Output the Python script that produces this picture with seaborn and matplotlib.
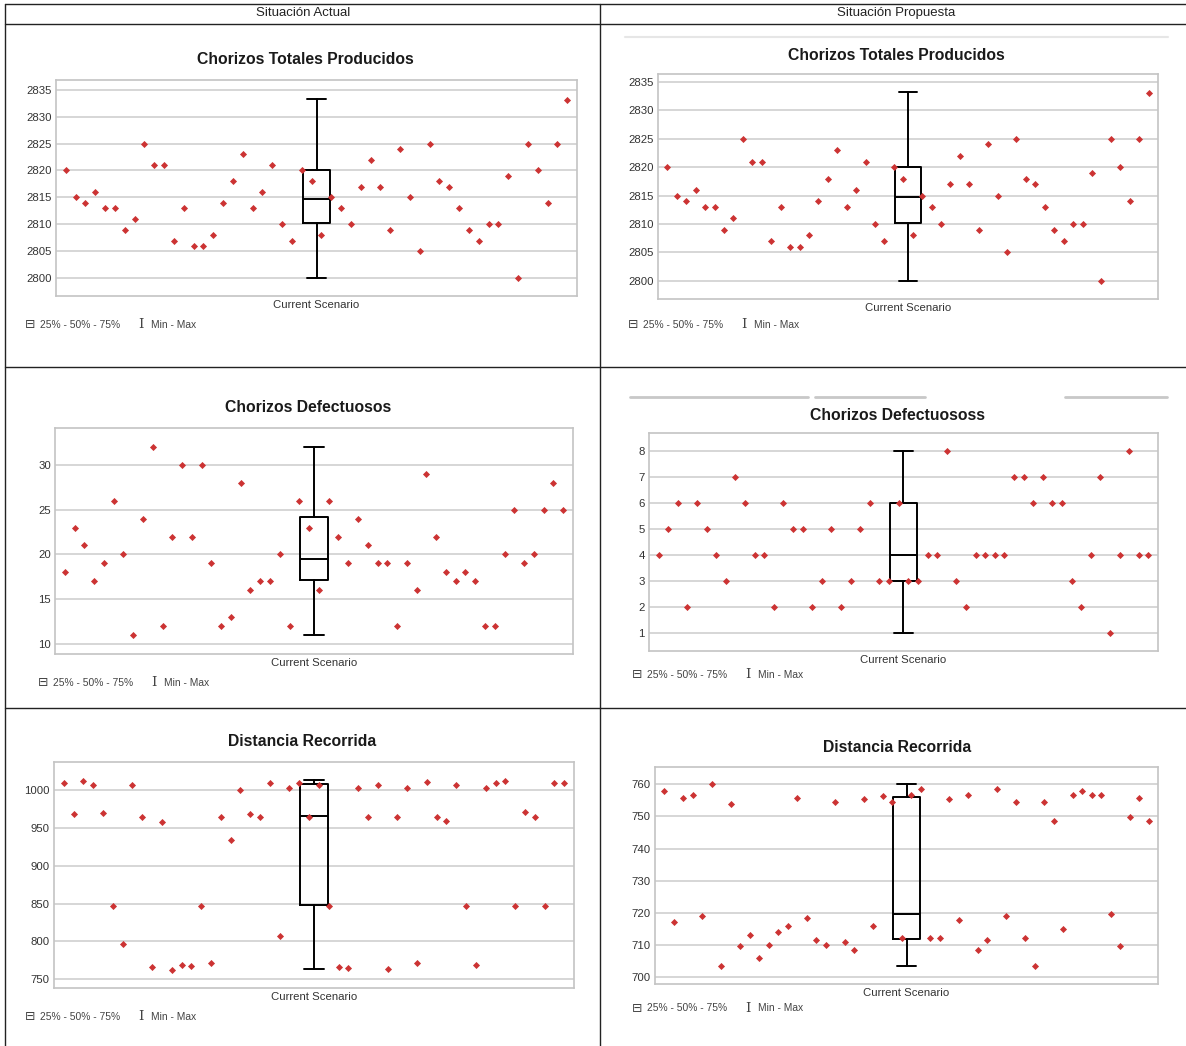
import numpy as np
import seaborn as sns
import matplotlib.pyplot as plt
from matplotlib.lines import Line2D

W, H = 1186, 1046

# ---- data (52 replications per scenario) ----
tot_prod = [2820, 2815, 2814, 2816, 2813, 2813, 2809, 2811, 2825, 2821, 2821, 2807, 2813,
            2806, 2806, 2808, 2814, 2818, 2823, 2813, 2816, 2821, 2810, 2807, 2820, 2818,
            2808, 2815, 2813, 2810, 2817, 2822, 2817, 2809, 2824, 2815, 2805, 2825, 2818,
            2817, 2813, 2809, 2807, 2810, 2810, 2819, 2800, 2825, 2820, 2814, 2825, 2833]
def_actual = [18, 23, 21, 17, 19, 26, 20, 11, 24, 32, 12, 22, 30, 22, 30, 19, 12, 13, 28,
              16, 17, 17, 20, 12, 26, 23, 16, 26, 22, 19, 24, 21, 19, 19, 12, 19, 16, 29,
              22, 18, 17, 18, 17, 12, 12, 20, 25, 19, 20, 25, 28, 25]
def_prop = [4, 5, 6, 2, 6, 5, 4, 3, 7, 6, 4, 4, 2, 6, 5, 5, 2, 3, 5, 2, 3, 5, 6, 3, 3, 6,
            3, 3, 4, 4, 8, 3, 2, 4, 4, 4, 4, 7, 7, 6, 7, 6, 6, 3, 2, 4, 7, 1, 4, 8, 4, 4]
dist_actual = [1009, 968, 1012, 1007, 970, 847, 796, 1007, 965, 766, 958, 762, 769, 768,
               847, 772, 965, 934, 1000, 968, 965, 1009, 807, 1003, 1009, 965, 1007, 847,
               766, 765, 1003, 965, 1007, 764, 965, 1003, 771, 1010, 965, 959, 1007, 847,
               769, 1003, 1009, 1012, 847, 971, 965, 847, 1009, 1009]
dist_prop = [757.9, 717, 755.7, 756.6, 719, 760, 703.5, 754, 709.5, 713, 706, 710, 714,
             716, 755.7, 718.5, 711.5, 710, 754.5, 711, 708.5, 755.5, 716, 756.5, 754.5,
             712, 756.6, 758.6, 712, 712, 755.5, 717.6, 756.6, 708.5, 711.5, 758.6, 719,
             754.5, 712, 703.5, 754.5, 748.5, 715, 756.6, 757.9, 756.6, 756.6, 719.7,
             709.5, 749.7, 755.7, 748.5]

# box summaries shown by the tool: min, q1, median, q3, max
tot_box = [2800, 2810.2, 2814.7, 2820.1, 2833.2]
def_actual_box = [11, 17.1, 19.5, 24.2, 32]
def_prop_box = [1, 3, 4, 6, 8]
dist_actual_box = [763, 848, 966, 1008, 1013]
dist_prop_box = [703.5, 711.8, 719.6, 755.9, 760]

headers = ['Situación Actual', 'Situación Propuesta']
scenario = 'Current Scenario'

red = '#cc3333'
sns.set_theme(style='white')
plt.rcParams['font.family'] = ['Liberation Sans', 'DejaVu Sans']

fig = plt.figure(figsize=(W / 100, H / 100), dpi=100)


def fx(x):
    return x / W


def fy(y):
    return 1 - y / H


# panel: values, box, title, (l, t, r, b) px, ylim, yticks, title xy, label y, legend xy
panels = [
    (tot_prod, tot_box, 'Chorizos Totales Producidos', (56, 80, 577, 296),
     (2796.7, 2836.8), range(2800, 2836, 5), (305, 60), (25, 325)),
    (tot_prod, tot_box, 'Chorizos Totales Producidos', (658, 74, 1158, 299),
     (2796.8, 2836.4), range(2800, 2836, 5), (896, 55), (628, 325)),
    (def_actual, def_actual_box, 'Chorizos Defectuosos', (55, 428, 573, 654),
     (8.9, 34.1), range(10, 31, 5), (308, 407), (38, 683)),
    (def_prop, def_prop_box, 'Chorizos Defectuososs', (649, 433, 1158, 651),
     (0.3, 8.7), range(1, 9), (898, 415), (632, 675)),
    (dist_actual, dist_actual_box, 'Distancia Recorrida', (54, 762, 574, 988),
     (738.5, 1037), range(750, 1001, 50), (302, 741), (25, 1017)),
    (dist_prop, dist_prop_box, 'Distancia Recorrida', (655, 767, 1158, 984),
     (697.8, 765.4), range(700, 761, 10), (897, 748), (632, 1008)),
]

for vals, box, title, (l, t, r, b), ylim, yticks, (tx, ty), (lx, ly) in panels:
    ax = fig.add_axes([fx(l), fy(b), (r - l) / W, (b - t) / H])
    runs = np.arange(len(vals))
    centre = (len(vals) - 1) / 2

    stats = [dict(whislo=box[0], q1=box[1], med=box[2], q3=box[3], whishi=box[4],
                  fliers=[])]
    line = dict(color='black', linewidth=1.4)
    ax.bxp(stats, positions=[centre], widths=2.8, capwidths=2.0, showfliers=False,
           boxprops=line, whiskerprops=line, capprops=line, medianprops=line,
           manage_ticks=False, zorder=2)
    sns.scatterplot(x=runs, y=vals, marker='D', s=13, color=red, linewidth=0,
                    ax=ax, zorder=3)

    ax.set_xlim(-1, len(vals))
    ax.set_ylim(*ylim)
    ax.set_yticks(list(yticks))
    ax.set_xticks([centre], [scenario])
    ax.tick_params(axis='both', length=0, labelsize=8.2, colors='#333333')
    ax.tick_params(axis='y', pad=3)
    ax.tick_params(axis='x', pad=3)
    ax.set_xlabel('')
    ax.set_ylabel('')
    ax.yaxis.grid(True, color='#d6d6d6', linewidth=1.4)
    ax.set_axisbelow(True)
    for s in ax.spines.values():
        s.set_color('#c4c4c4')
        s.set_linewidth(1.2)

    fig.text(fx(tx), fy(ty), title, ha='center', va='center', fontsize=11.3,
             fontweight='bold', color='#1a1a1a')
    fig.text(fx(lx), fy(ly), '⊟', ha='left', va='center', fontsize=9,
             family='DejaVu Sans', color='#444444')
    fig.text(fx(lx + 15), fy(ly), '25% - 50% - 75%', ha='left', va='center',
             fontsize=7.4, color='#444444')
    fig.text(fx(lx + 113), fy(ly), 'I', ha='left', va='center', fontsize=9.5,
             family='DejaVu Serif', color='#444444')
    fig.text(fx(lx + 126), fy(ly), 'Min - Max', ha='left', va='center',
             fontsize=7.4, color='#444444')

# table header and cell borders
fig.text(fx(303), fy(13), headers[0], ha='center', va='center', fontsize=9.5,
         color='#222222')
fig.text(fx(896), fy(13), headers[1], ha='center', va='center', fontsize=9.5,
         color='#222222')
for y in (4, 24, 367, 708):
    fig.add_artist(Line2D([fx(5), fx(1186)], [fy(y), fy(y)], color='#222222', lw=1))
for x in (5, 600):
    fig.add_artist(Line2D([fx(x), fx(x)], [fy(4), fy(1046)], color='#222222', lw=1))

# faint screenshot remnants in the right-hand cells
fig.add_artist(Line2D([fx(625), fx(1168)], [fy(37), fy(37)], color='#e6e6e6', lw=1.5))
for a, z in ((630, 808), (815, 925), (1065, 1167)):
    fig.add_artist(Line2D([fx(a), fx(z)], [fy(397), fy(397)], color='#c8c8c8', lw=2))

fig.savefig('out.png', dpi=100)
